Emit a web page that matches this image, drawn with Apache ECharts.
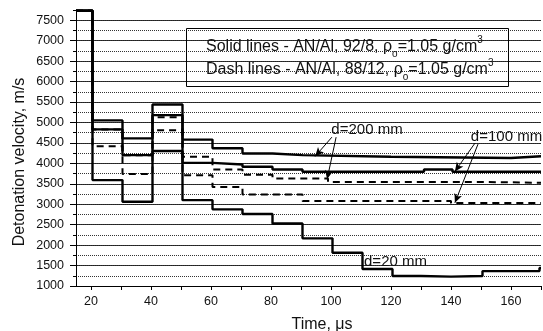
<!DOCTYPE html>
<html>
<head>
<meta charset="utf-8">
<script src="https://cdn.jsdelivr.net/npm/echarts@6/dist/echarts.min.js"></script>
<style>
html, body { margin: 0; padding: 0; background: #fff; }
#main { width: 543px; height: 331px; }
</style>
</head>
<body>
<div id="main"></div>
<script>
// step curves: value holds from each time until the next time
// solid lines, AN/Al 92/8
var tSolid200 = [15, 20.5, 30.5, 40.5, 50.5, 60.5, 70.5, 80.5, 90.5, 120, 160, 170];
var vSolid200 = [7730, 5050, 4610, 5440, 4580, 4370, 4240, 4200, 4160, 4130, 4175, 4175];
var tSolid100 = [15, 20.5, 30.5, 40.5, 50.5, 60.5, 70.5, 80.5, 90.5, 131, 140.5, 170];
var vSolid100 = [7730, 4830, 4200, 5180, 4010, 3970, 3915, 3850, 3795, 3850, 3795, 3795];
var tSolid20 = [15, 20.5, 30.5, 40.5, 50.5, 60.5, 70.5, 80.5, 90.5, 100.5, 110.5, 120.5, 130, 140, 150.5, 169.5, 170];
var vSolid20 = [7730, 3590, 3060, 4300, 3100, 2875, 2760, 2530, 2165, 1815, 1415, 1245, 1230, 1245, 1365, 1440, 1440];
// dash lines, AN/Al 88/12
var tDash200 = [15, 20.5, 30.5, 40.5, 50.5, 60.5, 70.5, 80.5, 99, 150, 170];
var vDash200 = [7730, 4830, 4200, 5130, 4160, 3850, 3720, 3630, 3545, 3525, 3525];
var tDash100 = [15, 20.5, 30.5, 40.5, 50.5, 60.5, 70.5, 90.5, 140, 170];
var vDash100 = [7730, 4420, 3740, 4810, 3710, 3420, 3240, 3080, 3030, 3030];

var xTicks = [20, 30, 40, 50, 60, 70, 80, 90, 100, 110, 120, 130, 140, 150, 160, 170];
var xLabels = [20, 40, 60, 80, 100, 120, 140, 160];

// annotations (time, velocity)
var noteText = ['d=200 mm', 'd=100 mm', 'd=20 mm'];
var noteAt = [[112, 4813], [158.5, 4640], [121.5, 1587]];
var arrowFrom = [[100.3, 4640], [101.7, 4640], [148, 4495], [149, 4470]];
var arrowTo = [[94.7, 4170], [98.7, 3610], [141.3, 3800], [141.3, 3035]];

function build(ts, vs) {
    var d = [];
    for (var i = 0; i < ts.length; i++) d.push([ts[i], vs[i]]);
    return d;
}

function arrows(idx) {
    return {
        silent: true,
        symbol: ['none', 'arrow'],
        symbolSize: [6, 9],
        lineStyle: { color: '#000', width: 1, type: 'solid' },
        label: { show: false },
        emphasis: { disabled: true },
        data: idx.map(function (i) {
            return [{ coord: arrowFrom[i] }, { coord: arrowTo[i] }];
        })
    };
}

var solid = { color: '#000', width: 2.4, type: 'solid' };
var dash = { color: '#000', width: 2, type: [7, 5] };

var myChart = echarts.init(document.getElementById('main'));

var option = {
    animation: false,
    grid: { left: 76, right: 2, top: 10, bottom: 45, containLabel: false, outerBoundsMode: 'none' },
    xAxis: {
        type: 'value',
        min: 15,
        max: 170,
        axisLine: { onZero: false, lineStyle: { color: '#000', width: 1 } },
        axisTick: { customValues: xTicks, length: 4, lineStyle: { color: '#000' } },
        axisLabel: { customValues: xLabels, fontSize: 12.5, fontFamily: 'Arial', color: '#111', margin: 9 },
        splitLine: { show: false }
    },
    yAxis: [
        {
            type: 'value',
            min: 1000,
            max: 7750,
            interval: 500,
            position: 'left',
            axisLine: { show: true, lineStyle: { color: '#000', width: 1 } },
            axisTick: { show: true, length: 6, lineStyle: { color: '#000' } },
            axisLabel: {
                showMaxLabel: false, fontSize: 12.5, fontFamily: 'Arial', color: '#111', margin: 12,
                formatter: function (v) { return String(v); }
            },
            splitLine: { show: true, showMaxLine: false, lineStyle: { color: '#222', width: 1 } }
        },
        {
            type: 'value',
            min: 1000,
            max: 7750,
            interval: 250,
            position: 'left',
            axisLine: { show: false },
            axisTick: { show: true, length: 3, lineStyle: { color: '#000' } },
            axisLabel: { show: false },
            splitLine: { show: true, showMaxLine: false, showMinLine: false, lineStyle: { color: '#333', width: 1, type: [1, 1] } }
        }
    ],
    series: [
        { type: 'line', step: 'end', symbol: 'none', data: build(tDash200, vDash200), lineStyle: dash, markLine: arrows([1]) },
        { type: 'line', step: 'end', symbol: 'none', data: build(tDash100, vDash100), lineStyle: dash, markLine: arrows([3]) },
        { type: 'line', step: 'end', symbol: 'none', data: build(tSolid20, vSolid20), lineStyle: solid },
        { type: 'line', step: 'end', symbol: 'none', data: build(tSolid100, vSolid100), lineStyle: solid, markLine: arrows([2]) },
        { type: 'line', step: 'end', symbol: 'none', data: build(tSolid200, vSolid200), lineStyle: solid, markLine: arrows([0]) }
    ]
};

myChart.setOption(option, true);

// texts placed after the axes exist
var rich = {
    a: { fontSize: 16, fontFamily: 'Arial', fill: '#111', lineHeight: 24 },
    s: { fontSize: 10, fontFamily: 'Arial', fill: '#111', lineHeight: 12, verticalAlign: 'bottom' },
    p: { fontSize: 10, fontFamily: 'Arial', fill: '#111', lineHeight: 12, verticalAlign: 'top' }
};
var graphics = [
    { type: 'rect', shape: { x: 186.5, y: 28.5, width: 322, height: 58 }, style: { fill: 'none', stroke: '#000', lineWidth: 1 } },
    { type: 'text', x: 206, y: 47, style: { text: '{a|Solid lines - AN/Al, 92/8, ρ}{s|o}{a|=1.05 g/cm}{p|3}', rich: rich, align: 'left', verticalAlign: 'middle' } },
    { type: 'text', x: 206, y: 70, style: { text: '{a|Dash lines - AN/Al, 88/12, ρ}{s|o}{a|=1.05 g/cm}{p|3}', rich: rich, align: 'left', verticalAlign: 'middle' } },
    { type: 'text', x: 20, y: 162, rotation: Math.PI / 2, style: { text: 'Detonation velocity, m/s', fontSize: 16, fontFamily: 'Arial', fill: '#111', align: 'center', verticalAlign: 'middle' } },
    { type: 'text', x: 322, y: 325, style: { text: 'Time, μs', fontSize: 16, fontFamily: 'Arial', fill: '#111', align: 'center', verticalAlign: 'middle' } }
];
noteText.forEach(function (t, i) {
    var p = myChart.convertToPixel({ gridIndex: 0 }, noteAt[i]);
    graphics.push({ type: 'text', x: p[0], y: p[1], z: 10, style: { text: t, fontSize: 15, fontFamily: 'Arial', fill: '#111', align: 'center', verticalAlign: 'middle' } });
});
myChart.setOption({ graphic: graphics });

window.onresize = myChart.resize;
</script>
</body>
</html>
